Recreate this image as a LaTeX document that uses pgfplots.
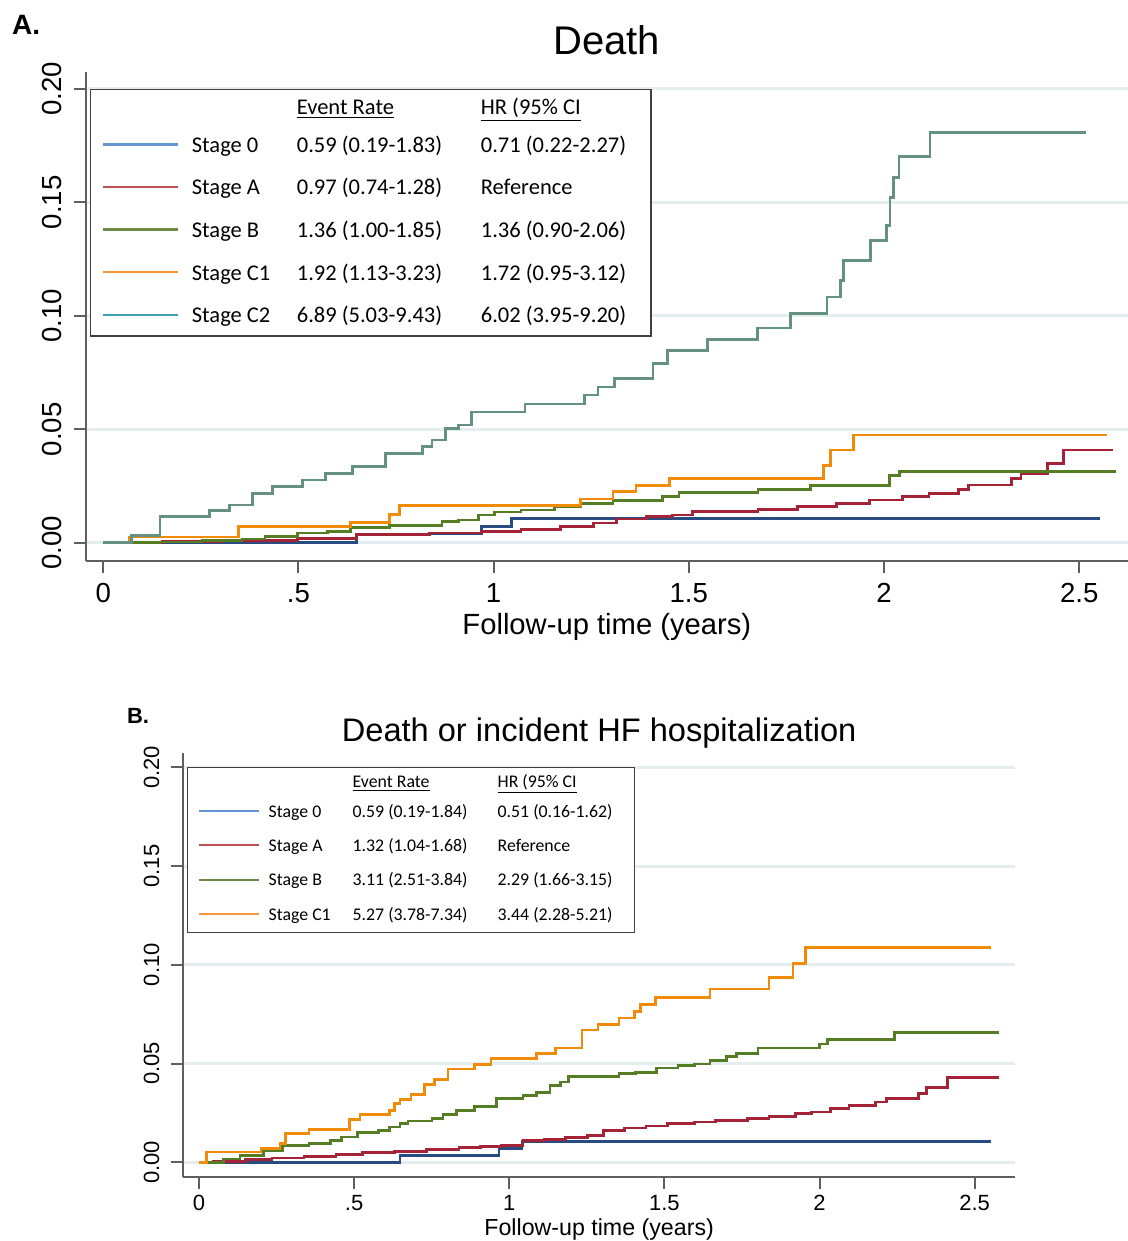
\documentclass[border=0pt]{standalone}
\usepackage{fontspec}
\setmainfont{Liberation Sans}
\newfontfamily\carlito{Carlito}
\usepackage{pgfplots}
\pgfplotsset{compat=1.18}

% curve colours
\definecolor{czero}{RGB}{40,75,130}
\definecolor{cA}{RGB}{165,35,55}
\definecolor{cB}{RGB}{85,125,35}
\definecolor{cCone}{RGB}{240,140,10}
\definecolor{cCtwo}{RGB}{100,145,130}
% legend colours
\definecolor{lzero}{RGB}{100,150,210}
\definecolor{lA}{RGB}{190,80,80}
\definecolor{lB}{RGB}{110,140,70}
\definecolor{lCone}{RGB}{245,150,60}
\definecolor{lCtwo}{RGB}{60,160,180}
\definecolor{gridc}{RGB}{228,238,241}
\definecolor{axc}{RGB}{95,95,95}

\pgfplotsset{
  km/.style={
    scale only axis,
    axis lines*=left,
    axis line style={draw=axc, line width=1pt},
    tick style={draw=axc, line width=1pt},
    tick align=outside,
    major tick length=6pt,
    ymajorgrids,
    grid style={color=gridc, line width=1.5pt},
    xtick={0,0.5,1,1.5,2,2.5},
    xticklabels={0,.5,1,1.5,2,2.5},
    ytick={0,0.05,0.1,0.15,0.2},
    yticklabels={0.00,0.05,0.10,0.15,0.20},
    /pgf/number format/assume math mode=true,
    xticklabel style={anchor=north, inner sep=0pt},
    yticklabel style={rotate=90, anchor=south, inner sep=0pt},
    legend cell align=left,
    xlabel={Follow-up time (years)},
  },
  kmline/.style={const plot, line width=1.35pt, forget plot},
}

\begin{document}
\begin{tikzpicture}
\path[use as bounding box] (0,0) rectangle (564pt,620.5pt);

\node[anchor=base west, inner sep=0pt, font=\bfseries\fontsize{14}{16}\selectfont] at (5.85pt,603pt) {A.};
\node[anchor=base west, inner sep=0pt, font=\bfseries\fontsize{11}{13}\selectfont] at (63.35pt,258.85pt) {B.};

% ---------------- Panel A: Death
\begin{axis}[km,
  at={(42.85pt,340.15pt)}, anchor=south west,
  width=521.15pt, height=244.35pt,
  xmin=-0.045, xmax=2.625, ymin=-0.0079, ymax=0.2075,
  xticklabel style={font=\fontsize{13.8}{16}\selectfont},
  yticklabel style={font=\fontsize{13.8}{16}\selectfont},
  xticklabel shift=5pt, yticklabel shift=6pt,
  title={Death},
  title style={at={(0.5,1)}, anchor=base, yshift=2.8pt, font=\fontsize{20}{24}\selectfont},
  xlabel style={at={(axis description cs:0.5,0)}, anchor=base, yshift=-36.9pt, font=\fontsize{14.6}{17}\selectfont},
  legend image code/.code={\draw[#1] (0pt,0pt) -- (37.5pt,0pt);},
  legend style={at={(axis description cs:0.0041,0.9652)}, anchor=north west,
    draw=black!75, line width=0.7pt, fill=white,
    inner xsep=5.6pt, inner ysep=0pt, column sep=6.3pt, row sep=0pt,
    font=\carlito\fontsize{11.25}{13}\selectfont,
    nodes={inner sep=0pt, text depth=, text height=}},
]
\addplot[kmline, color=czero] coordinates {
(0,0) (0.649,0.0038) (0.969,0.0072) (1.045,0.0108) (2.553,0.0108)};
\addplot[kmline, color=cA] coordinates {
(0,0) (0.152,0.0006) (0.304,0.001) (0.498,0.002) (0.649,0.0035) (0.835,0.0043)
(0.969,0.005) (1.07,0.006) (1.172,0.0072) (1.256,0.0087) (1.315,0.0105)
(1.391,0.0116) (1.458,0.0123) (1.509,0.0138) (1.677,0.0148) (1.778,0.016)
(1.879,0.0174) (1.963,0.0189) (2.048,0.0204) (2.115,0.0218) (2.191,0.0236)
(2.216,0.0255) (2.326,0.0284) (2.351,0.0306) (2.418,0.035) (2.46,0.0409) (2.587,0.0409)};
\addplot[kmline, color=cB] coordinates {
(0,0) (0.144,0.0004) (0.253,0.001) (0.355,0.0016) (0.414,0.0028) (0.498,0.0043)
(0.574,0.005) (0.633,0.0067) (0.734,0.0075) (0.868,0.0094) (0.91,0.0101)
(0.961,0.0123) (1.003,0.0135) (1.07,0.0145) (1.155,0.016) (1.222,0.0174)
(1.306,0.0185) (1.433,0.0204) (1.475,0.0223) (1.677,0.0236) (1.812,0.0251)
(2.014,0.0295) (2.039,0.0314) (2.595,0.0314)};
\addplot[kmline, color=cCone] coordinates {
(0,0) (0.068,0.0025) (0.346,0.0072) (0.633,0.0089) (0.734,0.0125) (0.759,0.0163)
(1.222,0.0193) (1.306,0.0226) (1.365,0.0251) (1.45,0.0284) (1.845,0.034)
(1.862,0.0409) (1.921,0.0475) (2.57,0.0475)};
\addplot[kmline, color=cCtwo] coordinates {
(0,0) (0.072,0.0031) (0.145,0.0116) (0.273,0.0141) (0.324,0.0167) (0.383,0.0218)
(0.434,0.0248) (0.511,0.0277) (0.570,0.0306) (0.638,0.0336) (0.723,0.0394)
(0.817,0.0423) (0.842,0.0453) (0.876,0.0504) (0.91,0.0519) (0.944,0.0577)
(1.08,0.0611) (1.233,0.0651) (1.267,0.0687) (1.31,0.0724) (1.408,0.079)
(1.446,0.0848) (1.548,0.0895) (1.675,0.0946) (1.76,0.101) (1.854,0.1083)
(1.888,0.1156) (1.897,0.1244) (1.965,0.1332) (2.007,0.1398) (2.015,0.1522)
(2.024,0.161) (2.038,0.1701) (2.118,0.1808) (2.517,0.1808)};

\addlegendimage{empty legend}
\addlegendentry{\rule[-4.35pt]{0pt}{16.7pt}\makebox[52.5pt][l]{}\makebox[92pt][l]{\underline{Event Rate}}\makebox[79.5pt][l]{\underline{HR (95\% CI}}}
\addlegendimage{color=lzero, line width=1.2pt}
\addlegendentry{\rule[-6.65pt]{0pt}{21.3pt}\makebox[52.5pt][l]{Stage 0}\makebox[92pt][l]{0.59 (0.19-1.83)}\makebox[79.5pt][l]{0.71 (0.22-2.27)}}
\addlegendimage{color=lA, line width=1.2pt}
\addlegendentry{\rule[-6.65pt]{0pt}{21.3pt}\makebox[52.5pt][l]{Stage A}\makebox[92pt][l]{0.97 (0.74-1.28)}\makebox[79.5pt][l]{Reference}}
\addlegendimage{color=lB, line width=1.2pt}
\addlegendentry{\rule[-6.65pt]{0pt}{21.3pt}\makebox[52.5pt][l]{Stage B}\makebox[92pt][l]{1.36 (1.00-1.85)}\makebox[79.5pt][l]{1.36 (0.90-2.06)}}
\addlegendimage{color=lCone, line width=1.2pt}
\addlegendentry{\rule[-6.65pt]{0pt}{21.3pt}\makebox[52.5pt][l]{Stage C1}\makebox[92pt][l]{1.92 (1.13-3.23)}\makebox[79.5pt][l]{1.72 (0.95-3.12)}}
\addlegendimage{color=lCtwo, line width=1.2pt}
\addlegendentry{\rule[-6.65pt]{0pt}{21.3pt}\makebox[52.5pt][l]{Stage C2}\makebox[92pt][l]{6.89 (5.03-9.43)}\makebox[79.5pt][l]{6.02 (3.95-9.20)}}
\end{axis}

% ---------------- Panel B: Death or incident HF hospitalization
\begin{axis}[km,
  at={(91.65pt,32.15pt)}, anchor=south west,
  width=415.85pt, height=212pt,
  xmin=-0.0506, xmax=2.63, ymin=-0.0073, ymax=0.2074,
  xticklabel style={font=\fontsize{11}{13}\selectfont},
  yticklabel style={font=\fontsize{11}{13}\selectfont},
  xticklabel shift=3.2pt, yticklabel shift=5.8pt,
  title={Death or incident HF hospitalization},
  title style={at={(0.5,1)}, anchor=base, yshift=-0.5pt, font=\fontsize{16.3}{19}\selectfont},
  xlabel style={at={(axis description cs:0.5,0)}, anchor=base, yshift=-29.35pt, font=\fontsize{11.6}{14}\selectfont},
  legend image code/.code={\draw[#1] (0pt,0pt) -- (30pt,0pt);},
  legend style={at={(axis description cs:0.0048,0.9656)}, anchor=north west,
    draw=black!75, line width=0.6pt, fill=white,
    inner xsep=4.8pt, inner ysep=0.5pt, column sep=4.6pt, row sep=0pt,
    font=\carlito\fontsize{8.9}{11}\selectfont,
    nodes={inner sep=0pt, text depth=, text height=}},
]
\addplot[kmline, color=czero] coordinates {
(0,0) (0.648,0.0035) (0.967,0.0069) (1.041,0.0106) (2.551,0.0106)};
\addplot[kmline, color=cA] coordinates {
(0,0) (0.045,0.0005) (0.149,0.0013) (0.235,0.0022) (0.338,0.003) (0.442,0.004)
(0.528,0.0049) (0.631,0.0056) (0.734,0.0064) (0.838,0.0074) (0.907,0.0081)
(0.976,0.0086) (1.044,0.0111) (1.113,0.0116) (1.182,0.0125) (1.251,0.0136)
(1.303,0.0162) (1.372,0.0173) (1.441,0.0184) (1.509,0.0195) (1.596,0.0204)
(1.664,0.0212) (1.768,0.0221) (1.837,0.0232) (1.923,0.0246) (1.974,0.0254)
(2.035,0.0271) (2.095,0.0288) (2.181,0.0305) (2.215,0.0322) (2.319,0.0347)
(2.345,0.038) (2.413,0.0431) (2.577,0.0431)};
\addplot[kmline, color=cB] coordinates {
(0,0) (0.08,0.0017) (0.132,0.0035) (0.209,0.0061) (0.269,0.0086) (0.355,0.0094)
(0.424,0.0111) (0.459,0.0128) (0.51,0.015) (0.579,0.0162) (0.614,0.0178)
(0.648,0.0195) (0.674,0.0209) (0.751,0.0221) (0.786,0.0242) (0.829,0.0263)
(0.889,0.0283) (0.958,0.0322) (1.044,0.0338) (1.087,0.0355) (1.131,0.0389)
(1.165,0.0406) (1.191,0.0434) (1.354,0.0448) (1.406,0.0456) (1.475,0.0478)
(1.544,0.049) (1.596,0.0498) (1.647,0.0515) (1.699,0.0535) (1.733,0.0552)
(1.802,0.0579) (2.0,0.0599) (2.026,0.0623) (2.241,0.0658) (2.577,0.0658)};
\addplot[kmline, color=cCone] coordinates {
(0,0) (0.025,0.0052) (0.2,0.0069) (0.261,0.0094) (0.278,0.0145) (0.355,0.0167)
(0.485,0.0215) (0.519,0.0242) (0.614,0.0263) (0.631,0.0296) (0.648,0.0317)
(0.683,0.0343) (0.726,0.0394) (0.76,0.0418) (0.803,0.0473) (0.889,0.0495)
(0.941,0.0527) (1.087,0.0552) (1.148,0.0579) (1.234,0.067) (1.286,0.0697)
(1.354,0.0731) (1.403,0.0763) (1.423,0.0798) (1.471,0.0835) (1.647,0.0877)
(1.837,0.0936) (1.914,0.1008) (1.954,0.1088) (2.551,0.1088)};

\addlegendimage{empty legend}
\addlegendentry{\rule[-2.7pt]{0pt}{11.8pt}\makebox[42pt][l]{}\makebox[72.5pt][l]{\underline{Event Rate}}\makebox[63.6pt][l]{\underline{HR (95\% CI}}}
\addlegendimage{color=lzero, line width=1pt}
\addlegendentry{\rule[-5.4pt]{0pt}{17.2pt}\makebox[42pt][l]{Stage 0}\makebox[72.5pt][l]{0.59 (0.19-1.84)}\makebox[63.6pt][l]{0.51 (0.16-1.62)}}
\addlegendimage{color=lA, line width=1pt}
\addlegendentry{\rule[-5.4pt]{0pt}{17.2pt}\makebox[42pt][l]{Stage A}\makebox[72.5pt][l]{1.32 (1.04-1.68)}\makebox[63.6pt][l]{Reference}}
\addlegendimage{color=lB, line width=1pt}
\addlegendentry{\rule[-5.4pt]{0pt}{17.2pt}\makebox[42pt][l]{Stage B}\makebox[72.5pt][l]{3.11 (2.51-3.84)}\makebox[63.6pt][l]{2.29 (1.66-3.15)}}
\addlegendimage{color=lCone, line width=1pt}
\addlegendentry{\rule[-5.4pt]{0pt}{17.2pt}\makebox[42pt][l]{Stage C1}\makebox[72.5pt][l]{5.27 (3.78-7.34)}\makebox[63.6pt][l]{3.44 (2.28-5.21)}}
\end{axis}
\end{tikzpicture}
\end{document}
